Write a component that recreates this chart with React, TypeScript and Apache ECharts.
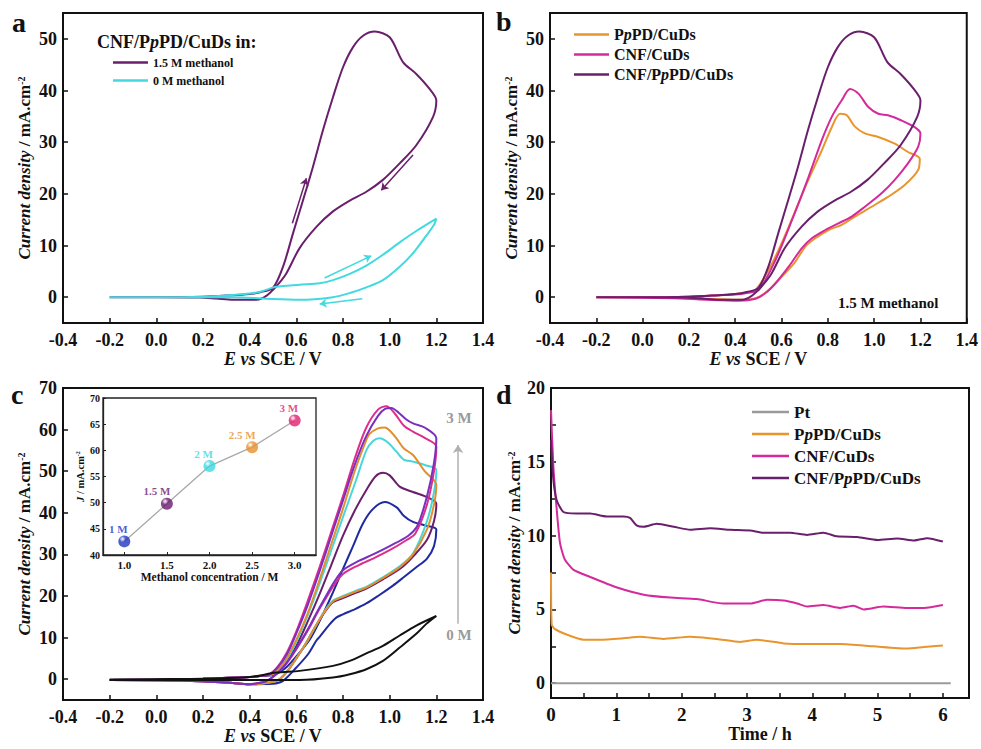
import React, { useEffect, useRef } from "react";
import * as echarts from "echarts";

const FONT = '"Liberation Serif","Times New Roman",serif';

// ---------- Panel a / b : CNF/PpPD/CuDs in 1.5 M methanol ----------
const pppd15FwdE = [-0.2, 0.0, 0.2, 0.3, 0.4, 0.45, 0.5, 0.543, 0.586, 0.629, 0.671, 0.714, 0.757, 0.8, 0.843, 0.886, 0.936, 1.0, 1.057, 1.114, 1.171, 1.2];
const pppd15FwdJ = [0, 0, 0.1, 0.3, 0.6, 1.0, 1.8, 5.9, 12.4, 18.8, 25.2, 32.3, 38.7, 44.5, 48.4, 50.6, 51.4, 50.3, 45.5, 43.2, 40.3, 38.1];
const pppd15RevE = [1.186, 1.114, 1.043, 0.971, 0.9, 0.829, 0.757, 0.686, 0.614, 0.557, 0.514, 0.471, 0.43, 0.33, 0.257, 0.186, 0.0, -0.2];
const pppd15RevJ = [34.9, 29.4, 25.9, 22.7, 20.4, 18.7, 16.6, 13.6, 9.5, 4.6, 2.1, 0.26, -0.5, -0.5, -0.26, -0.05, 0, 0];

// 0 M methanol
const blankFwdE = [-0.2, 0.0, 0.2, 0.3, 0.4, 0.45, 0.514, 0.614, 0.7, 0.757, 0.829, 0.9, 0.971, 1.043, 1.114, 1.2];
const blankFwdJ = [0, 0, 0.1, 0.3, 0.7, 1.1, 2.0, 2.4, 2.7, 3.3, 4.5, 6.1, 8.2, 10.6, 12.8, 15.2];
const blankRevE = [1.19, 1.157, 1.1, 1.043, 0.971, 0.9, 0.829, 0.757, 0.614, 0.471, 0.33, 0.1, -0.2];
const blankRevJ = [14.0, 11.9, 8.5, 5.9, 3.3, 1.9, 0.8, 0.0, -0.5, -0.3, 0, 0, 0];

// scan-direction arrows of panel a: [E1, J1, E2, J2]
const arrowsMeth = [[0.583, 14.3, 0.643, 23.0], [1.1, 27.5, 0.964, 20.7]];
const arrowsBlank = [[0.721, 3.7, 0.921, 8.0], [0.883, -0.3, 0.7, -1.3]];

// ---------- Panel b ----------
const ppdFwdE = [-0.2, 0.0, 0.2, 0.3, 0.4, 0.45, 0.488, 0.56, 0.631, 0.703, 0.774, 0.817, 0.853, 0.882, 0.917, 0.96, 1.018, 1.089, 1.146, 1.197];
const ppdFwdJ = [0, 0, 0.1, 0.3, 0.6, 0.9, 1.4, 6.6, 13.6, 21.4, 28.4, 32.9, 35.5, 35.2, 33.0, 31.7, 31.0, 29.7, 28.1, 26.8];
const ppdRevE = [1.19, 1.132, 1.06, 0.989, 0.917, 0.86, 0.803, 0.746, 0.703, 0.66, 0.602, 0.545, 0.488, 0.416, 0.273, 0.13, -0.2];
const ppdRevJ = [24.6, 21.7, 19.4, 17.5, 15.6, 14.0, 13.0, 11.4, 9.8, 6.9, 4.0, 1.4, -0.2, -0.5, -0.3, 0, 0];

const cnfFwdE = [-0.2, 0.0, 0.2, 0.3, 0.4, 0.45, 0.502, 0.574, 0.645, 0.717, 0.774, 0.817, 0.86, 0.896, 0.932, 0.975, 1.018, 1.06, 1.118, 1.175, 1.2];
const cnfFwdJ = [0, 0, 0.1, 0.3, 0.5, 0.8, 1.4, 7.2, 14.9, 23.3, 30.4, 34.9, 38.1, 40.3, 39.4, 36.8, 35.5, 35.2, 34.2, 32.9, 31.7];
const cnfRevE = [1.19, 1.146, 1.089, 1.032, 0.96, 0.903, 0.846, 0.789, 0.731, 0.688, 0.631, 0.574, 0.531, 0.488, 0.416, 0.273, 0.13, -0.2];
const cnfRevJ = [29.1, 25.9, 22.7, 20.1, 17.5, 15.6, 14.3, 13.0, 11.4, 9.5, 5.9, 2.7, 0.8, -0.3, -0.7, -0.5, -0.2, 0];

// ---------- Panel c : concentration series ----------
const lowFwdE = [-0.2, 0.0, 0.2, 0.4, 0.45];
const lowFwdJ = [-0.2, -0.1, 0.1, 0.5, 0.8];
const lowRevE = [0.4, 0.3, 0.1, -0.2];
const lowRevJ = [-1.2, -0.8, -0.3, -0.2];

const c0FwdE = [-0.2, 0.0, 0.2, 0.4, 0.514, 0.614, 0.757, 0.829, 0.9, 0.971, 1.043, 1.114, 1.2];
const c0FwdJ = [-0.1, 0, 0.1, 0.5, 1.6, 2.0, 3.2, 4.4, 6.2, 8.0, 10.5, 12.9, 15.2];
const c0RevE = [1.157, 1.114, 1.043, 0.971, 0.9, 0.829, 0.757, 0.614, 0.33, -0.2];
const c0RevJ = [13.3, 10.9, 7.6, 4.4, 2.4, 1.2, 0.4, -0.2, -0.2, -0.2];

const c1FwdE = [0.5, 0.55, 0.6, 0.657, 0.7, 0.75, 0.8, 0.843, 0.886, 0.93, 0.979, 1.03, 1.06, 1.1, 1.15, 1.2];
const c1FwdJ = [1.0, 2.5, 5.5, 9.5, 14.0, 20.0, 26.5, 32.0, 37.5, 41.0, 42.6, 41.3, 39.3, 37.8, 37.0, 36.0];
const c1RevE = [1.19, 1.16, 1.114, 1.06, 1.014, 0.95, 0.9, 0.85, 0.8, 0.771, 0.74, 0.7, 0.686, 0.65, 0.6, 0.543, 0.5];
const c1RevJ = [32.0, 29.0, 26.9, 24.5, 22.5, 20.0, 18.2, 16.8, 15.6, 14.8, 13.0, 10.2, 9.3, 6.0, 2.8, -0.4, -1.1];

const c15FwdE = [0.5, 0.55, 0.6, 0.65, 0.7, 0.75, 0.8, 0.85, 0.9, 0.94, 0.971, 1.0, 1.043, 1.1, 1.15, 1.2];
const c15FwdJ = [1.2, 3.5, 8.0, 14.0, 20.5, 27.5, 34.5, 40.5, 45.5, 48.8, 49.6, 49.0, 46.3, 45.0, 44.0, 42.2];
const c15RevE = [1.19, 1.16, 1.1, 1.05, 0.971, 0.9, 0.857, 0.8, 0.757, 0.72, 0.68, 0.64, 0.6, 0.56, 0.52, 0.45];
const c15RevJ = [38.0, 33.5, 29.5, 26.8, 24.0, 21.8, 20.8, 19.5, 18.5, 16.0, 12.5, 8.5, 5.0, 1.8, -0.3, -1.1];

const c2FwdE = [0.5, 0.55, 0.6, 0.65, 0.7, 0.75, 0.8, 0.857, 0.9, 0.93, 0.957, 0.99, 1.029, 1.06, 1.1, 1.15, 1.2];
const c2FwdJ = [1.3, 4.0, 9.0, 15.5, 23.0, 31.0, 39.0, 48.0, 55.0, 57.3, 57.9, 57.0, 54.7, 52.8, 52.3, 51.5, 50.3];
const c2RevE = [1.19, 1.16, 1.1, 1.04, 0.971, 0.9, 0.857, 0.8, 0.757, 0.72, 0.68, 0.64, 0.6, 0.56, 0.52, 0.45];
const c2RevJ = [45.0, 38.0, 30.2, 27.0, 24.5, 22.2, 21.3, 20.0, 18.9, 16.3, 12.5, 8.5, 5.0, 1.8, -0.3, -1.1];

const c25FwdE = [0.5, 0.55, 0.6, 0.65, 0.7, 0.75, 0.8, 0.85, 0.9, 0.914, 0.95, 0.979, 1.0, 1.029, 1.06, 1.1, 1.15, 1.2];
const c25FwdJ = [1.3, 4.2, 9.5, 16.0, 24.0, 32.5, 41.0, 50.0, 57.5, 59.0, 60.3, 60.5, 59.8, 57.9, 55.5, 53.9, 50.0, 46.7];
const c25RevE = [1.19, 1.16, 1.1, 1.04, 0.971, 0.9, 0.857, 0.8, 0.757, 0.72, 0.68, 0.64, 0.6, 0.56, 0.52, 0.45];
const c25RevJ = [42.0, 36.0, 30.0, 26.8, 24.3, 22.0, 21.1, 19.8, 18.7, 16.2, 12.5, 8.5, 5.0, 1.8, -0.3, -1.1];

const c3FwdE = [0.48, 0.52, 0.56, 0.6, 0.65, 0.7, 0.75, 0.8, 0.85, 0.9, 0.95, 0.986, 1.02, 1.06, 1.1, 1.15, 1.2];
const c3FwdJ = [1.0, 3.0, 6.5, 11.5, 19.0, 27.0, 35.5, 44.0, 53.0, 60.5, 64.8, 65.6, 64.0, 61.0, 59.5, 58.0, 55.9];
const c3RevE = [1.19, 1.16, 1.11, 1.071, 1.0, 0.929, 0.87, 0.8, 0.76, 0.729, 0.69, 0.657, 0.62, 0.586, 0.55, 0.514, 0.47, 0.42];
const c3RevJ = [50.0, 42.0, 35.0, 33.4, 31.0, 29.0, 27.5, 25.3, 22.5, 19.7, 16.0, 12.5, 9.0, 6.0, 3.2, 1.2, -0.5, -1.1];

const c35FwdE = [0.48, 0.52, 0.56, 0.6, 0.65, 0.7, 0.75, 0.8, 0.85, 0.9, 0.95, 0.98, 1.007, 1.04, 1.07, 1.1, 1.15, 1.2];
const c35FwdJ = [1.0, 2.8, 6.0, 11.0, 18.0, 26.0, 34.5, 43.0, 51.5, 58.5, 63.3, 65.0, 65.2, 64.0, 62.5, 61.5, 60.5, 57.9];
const c35RevE = [1.19, 1.16, 1.12, 1.08, 1.0, 0.929, 0.87, 0.8, 0.76, 0.729, 0.69, 0.657, 0.62, 0.586, 0.55, 0.514, 0.47, 0.42];
const c35RevJ = [52.0, 44.0, 37.0, 34.5, 32.0, 30.0, 28.5, 26.2, 23.2, 20.2, 16.3, 12.8, 9.2, 6.2, 3.3, 1.2, -0.5, -1.1];

const concArrow = [1.293, 13.3, 1.293, 56.3];

// inset
const insetConc = [1.0, 1.5, 2.0, 2.5, 3.0];
const insetPeak = [42.6, 49.8, 57.0, 60.6, 65.7];
const insetLabels = ["1 M", "1.5 M", "2 M", "2.5 M", "3 M"];

// ---------- Panel d : chronoamperometry ----------
const ptT = [0, 6.12];
const ptJ = [0, 0];
const ppdT = [0, 0.01, 0.05, 0.24, 0.5, 0.75, 1.11, 1.36, 1.72, 2.13, 2.54, 2.9, 3.15, 3.56, 3.92, 4.43, 4.94, 5.45, 5.71, 6.0];
const ppdJ = [7.5, 4.0, 3.7, 3.3, 2.95, 2.95, 3.05, 3.15, 3.0, 3.15, 3.0, 2.8, 2.95, 2.7, 2.65, 2.65, 2.5, 2.35, 2.45, 2.55];
const cnfT = [0, 0.036, 0.087, 0.138, 0.21, 0.34, 0.6, 1.0, 1.42, 1.83, 2.23, 2.64, 3.05, 3.31, 3.56, 3.77, 3.92, 4.17, 4.43, 4.63, 4.79, 5.09, 5.45, 5.71, 6.0];
const cnfJ = [18.5, 14.7, 11.8, 9.5, 8.4, 7.7, 7.2, 6.5, 6.0, 5.8, 5.7, 5.4, 5.4, 5.65, 5.6, 5.4, 5.2, 5.3, 5.1, 5.25, 5.0, 5.2, 5.1, 5.1, 5.3];
const triT = [0, 0.036, 0.087, 0.19, 0.39, 0.6, 0.85, 1.11, 1.21, 1.31, 1.42, 1.62, 1.88, 2.13, 2.44, 2.74, 3.05, 3.25, 3.66, 3.92, 4.17, 4.38, 4.69, 5.0, 5.3, 5.56, 5.76, 6.0];
const triJ = [16.5, 13.8, 12.4, 11.6, 11.5, 11.5, 11.3, 11.3, 11.2, 10.7, 10.6, 10.8, 10.6, 10.4, 10.5, 10.4, 10.35, 10.2, 10.2, 10.05, 10.2, 9.95, 9.9, 9.7, 9.8, 9.67, 9.83, 9.6];

// tick values
const cvXTicks = [-0.4, -0.2, 0, 0.2, 0.4, 0.6, 0.8, 1.0, 1.2, 1.4];
const abYTicks = [0, 10, 20, 30, 40, 50];
const cYTicks = [0, 10, 20, 30, 40, 50, 60, 70];
const dYLabels = [0, 5, 10, 15, 20];
const dYTicks = [0, 2.5, 5, 7.5, 10, 12.5, 15, 17.5, 20];
const dXLabels = [0, 1, 2, 3, 4, 5, 6];
const dXTicks = [0, 0.5, 1, 1.5, 2, 2.5, 3, 3.5, 4, 4.5, 5, 5.5, 6];
const inYTicks = [40, 45, 50, 55, 60, 65, 70];
const inXTicks = [1.0, 1.5, 2.0, 2.5, 3.0];

const C = {
  purple: "#6a1f6c",
  cyan: "#42d9e0",
  orange: "#e8952e",
  pink: "#d42b9b",
  black: "#111111",
  blue: "#1f2a9e",
  cyan2: "#48d6dc",
  orange2: "#e0902c",
  pink2: "#dc2f8c",
  violet: "#7b2fbf",
  gray: "#9a9a9a",
};

const pair = (e: number[], j: number[]) => e.map((v, i) => [v, j[i]]);
const loop = (fe: number[], fj: number[], re: number[], rj: number[]) => pair(fe, fj).concat(pair(re, rj));

const richName = (size: number) => ({
  fontFamily: FONT,
  fontWeight: "bold",
  fontSize: size,
  color: "#111",
  rich: {
    i: { fontFamily: FONT, fontWeight: "bold", fontStyle: "italic", fontSize: size, color: "#111" },
    s: { fontFamily: FONT, fontWeight: "bold", fontSize: Math.round(size * 0.6), color: "#111", verticalAlign: "top" },
  },
});

const lineAx = (color = "#111", w = 2) => ({ show: true, onZero: false, lineStyle: { color, width: w } });

function xCV(gi: number) {
  return {
    type: "value",
    gridIndex: gi,
    min: -0.4,
    max: 1.4,
    interval: 0.2,
    axisLine: lineAx(),
    axisTick: { inside: true, length: 5, customValues: cvXTicks, lineStyle: { color: "#111", width: 1.5 } },
    axisLabel: {
      customValues: cvXTicks,
      formatter: (v: number) => (Math.abs(v) < 1e-9 ? "0.0" : v.toFixed(1)),
      fontFamily: FONT,
      fontWeight: "bold",
      fontSize: 18,
      color: "#111",
      margin: 8,
      showMinLabel: true,
      showMaxLabel: true,
    },
    splitLine: { show: false },
    name: "{i|E} {i|vs} SCE / V",
    nameLocation: "middle",
    nameGap: 24,
    nameTextStyle: richName(18),
  };
}

function yAx(gi: number, min: number, max: number, labels: number[], ticks: number[], gap: number) {
  return {
    type: "value",
    gridIndex: gi,
    min,
    max,
    axisLine: lineAx(),
    axisTick: { inside: true, length: 5, customValues: ticks, lineStyle: { color: "#111", width: 1.5 } },
    axisLabel: {
      customValues: labels,
      fontFamily: FONT,
      fontWeight: "bold",
      fontSize: 18,
      color: "#111",
      margin: 6,
    },
    splitLine: { show: false },
    name: "{i|Current density} / mA.cm{s|-2}",
    nameLocation: "middle",
    nameGap: gap,
    nameTextStyle: richName(17),
  };
}

const cv = (name: string, data: number[][], color: string, idx: number, extra: any = {}) => ({
  type: "line",
  name,
  data,
  xAxisIndex: idx,
  yAxisIndex: idx,
  showSymbol: false,
  symbol: "none",
  smooth: 0.3,
  lineStyle: { color, width: 2 },
  itemStyle: { color },
  z: 3,
  ...extra,
});

const arrowMark = (arrs: number[][], color: string, width = 1.5, size = 7) => ({
  silent: true,
  symbol: ["none", "arrow"],
  symbolSize: size,
  label: { show: false },
  lineStyle: { color, width, type: "solid" },
  emphasis: { disabled: true },
  data: arrs.map((a) => [{ coord: [a[0], a[1]] }, { coord: [a[2], a[3]] }]),
});

const legendText = (size: number) => ({
  fontFamily: FONT,
  fontWeight: "bold",
  fontSize: size,
  lineHeight: size + 1,
  color: "#111",
  rich: { i: { fontFamily: FONT, fontWeight: "bold", fontStyle: "italic", fontSize: size, color: "#111" } },
});
const fmtLegend = (n: string) => n.replace("PpPD", "P{i|p}PD");

const ball = (c: string) =>
  new echarts.graphic.RadialGradient(0.35, 0.3, 0.75, [
    { offset: 0, color: "#ffffff" },
    { offset: 0.35, color: c },
    { offset: 1, color: c },
  ]);
const insetColors = ["#2233c0", "#6a1a70", "#3fd8e0", "#e8902a", "#e0206e"];

export default function App() {
  const ref = useRef<HTMLDivElement>(null);
  useEffect(() => {
    if (!ref.current) return;
    const chart = echarts.init(ref.current, null, { renderer: "svg" });
    const option: any = {
      animation: false,
      backgroundColor: "#ffffff",
      grid: [
        { left: 63, top: 13, width: 420, height: 310, show: true, borderColor: "#111", borderWidth: 2 },
        { left: 550, top: 13, width: 419, height: 310, show: true, borderColor: "#111", borderWidth: 2 },
        { left: 63, top: 388, width: 420, height: 312, show: true, borderColor: "#111", borderWidth: 2 },
        { left: 551, top: 388, width: 418, height: 310, show: true, borderColor: "#111", borderWidth: 2 },
        { left: 103, top: 398, width: 213, height: 157, show: true, borderColor: "#222", borderWidth: 1.3, backgroundColor: "#fff", z: 5 },
      ],
      xAxis: [
        xCV(0),
        xCV(1),
        xCV(2),
        {
          type: "value",
          gridIndex: 3,
          min: 0,
          max: 6.4,
          axisLine: lineAx(),
          axisTick: { inside: true, length: 5, customValues: dXTicks, lineStyle: { color: "#111", width: 1.5 } },
          axisLabel: { customValues: dXLabels, fontFamily: FONT, fontWeight: "bold", fontSize: 19, color: "#111", margin: 7 },
          splitLine: { show: false },
          name: "Time / h",
          nameLocation: "middle",
          nameGap: 21,
          nameTextStyle: richName(18),
        },
        {
          type: "value",
          gridIndex: 4,
          min: 0.75,
          max: 3.25,
          z: 6,
          axisLine: lineAx("#222", 1.3),
          axisTick: { inside: true, length: 3, customValues: inXTicks, lineStyle: { color: "#222", width: 1 } },
          axisLabel: {
            customValues: inXTicks,
            formatter: (v: number) => v.toFixed(1),
            fontFamily: FONT,
            fontWeight: "bold",
            fontSize: 11,
            color: "#111",
            margin: 4,
          },
          splitLine: { show: false },
          name: "Methanol concentration / M",
          nameLocation: "middle",
          nameGap: 15,
          nameTextStyle: { fontFamily: FONT, fontWeight: "bold", fontSize: 11.5, color: "#111" },
        },
      ],
      yAxis: [
        yAx(0, -5, 55, abYTicks, abYTicks, 30),
        yAx(1, -5, 55, abYTicks, abYTicks, 30),
        yAx(2, -5, 70, cYTicks, cYTicks, 30),
        yAx(3, -1, 20, dYLabels, dYTicks, 28),
        {
          type: "value",
          gridIndex: 4,
          min: 40,
          max: 70,
          z: 6,
          axisLine: lineAx("#222", 1.3),
          axisTick: { inside: true, length: 3, customValues: inYTicks, lineStyle: { color: "#222", width: 1 } },
          axisLabel: { customValues: inYTicks, fontFamily: FONT, fontWeight: "bold", fontSize: 10, color: "#111", margin: 3 },
          splitLine: { show: false },
          name: "{i|J} / mA.cm{s|-2}",
          nameLocation: "middle",
          nameGap: 16,
          nameTextStyle: richName(10.5),
        },
      ],
      legend: [
        {
          data: ["1.5 M methanol", "0 M methanol"],
          orient: "vertical",
          left: 113,
          top: 56,
          padding: 0,
          icon: "rect",
          itemWidth: 35,
          itemHeight: 2.5,
          itemGap: 5,
          textStyle: legendText(12),
        },
        {
          data: ["PpPD/CuDs", "CNF/CuDs", "CNF/PpPD/CuDs"],
          orient: "vertical",
          left: 574,
          top: 26,
          padding: 0,
          icon: "rect",
          itemWidth: 35,
          itemHeight: 2.5,
          itemGap: 3,
          formatter: fmtLegend,
          textStyle: legendText(16),
        },
        {
          data: ["Pt", "PpPD/CuDs", "CNF/CuDs", "CNF/PpPD/CuDs"],
          orient: "vertical",
          left: 752,
          top: 403,
          padding: 0,
          icon: "rect",
          itemWidth: 37,
          itemHeight: 2.5,
          itemGap: 4,
          formatter: fmtLegend,
          textStyle: legendText(17),
        },
      ],
      graphic: [
        { type: "text", x: 12, y: 22, style: { text: "a", fontFamily: FONT, fontWeight: "bold", fontSize: 28, fill: "#111", verticalAlign: "middle" } },
        { type: "text", x: 496, y: 21, style: { text: "b", fontFamily: FONT, fontWeight: "bold", fontSize: 28, fill: "#111", verticalAlign: "middle" } },
        { type: "text", x: 11, y: 394, style: { text: "c", fontFamily: FONT, fontWeight: "bold", fontSize: 28, fill: "#111", verticalAlign: "middle" } },
        { type: "text", x: 496, y: 394, style: { text: "d", fontFamily: FONT, fontWeight: "bold", fontSize: 28, fill: "#111", verticalAlign: "middle" } },
        {
          type: "text",
          x: 97,
          y: 42,
          style: {
            text: "CNF/P{i|p}PD/CuDs in:",
            fontFamily: FONT,
            fontWeight: "bold",
            fontSize: 18,
            fill: "#111",
            verticalAlign: "middle",
            rich: { i: { fontFamily: FONT, fontWeight: "bold", fontStyle: "italic", fontSize: 18, fill: "#111" } },
          },
        },
        { type: "text", x: 838, y: 303, style: { text: "1.5 M methanol", fontFamily: FONT, fontWeight: "bold", fontSize: 15, fill: "#111", verticalAlign: "middle" } },
        { type: "text", x: 459, y: 418, style: { text: "3 M", fontFamily: FONT, fontWeight: "bold", fontSize: 15, fill: "#9a9a9a", align: "center", verticalAlign: "middle" } },
        { type: "text", x: 459, y: 635, style: { text: "0 M", fontFamily: FONT, fontWeight: "bold", fontSize: 15, fill: "#9a9a9a", align: "center", verticalAlign: "middle" } },
      ],
      series: [
        // panel a
        cv("1.5 M methanol", loop(pppd15FwdE, pppd15FwdJ, pppd15RevE, pppd15RevJ), C.purple, 0, { markLine: arrowMark(arrowsMeth, C.purple) }),
        cv("0 M methanol", loop(blankFwdE, blankFwdJ, blankRevE, blankRevJ), C.cyan, 0, { markLine: arrowMark(arrowsBlank, C.cyan) }),
        // panel b
        cv("PpPD/CuDs", loop(ppdFwdE, ppdFwdJ, ppdRevE, ppdRevJ), C.orange, 1),
        cv("CNF/CuDs", loop(cnfFwdE, cnfFwdJ, cnfRevE, cnfRevJ), C.pink, 1),
        cv("CNF/PpPD/CuDs", loop(pppd15FwdE, pppd15FwdJ, pppd15RevE, pppd15RevJ), C.purple, 1),
        // panel c
        cv("c 1 M", loop(lowFwdE.concat(c1FwdE), lowFwdJ.concat(c1FwdJ), c1RevE.concat(lowRevE), c1RevJ.concat(lowRevJ)), C.blue, 2),
        cv("c 1.5 M", loop(lowFwdE.concat(c15FwdE), lowFwdJ.concat(c15FwdJ), c15RevE.concat(lowRevE), c15RevJ.concat(lowRevJ)), C.purple, 2),
        cv("c 2 M", loop(lowFwdE.concat(c2FwdE), lowFwdJ.concat(c2FwdJ), c2RevE.concat(lowRevE), c2RevJ.concat(lowRevJ)), C.cyan2, 2),
        cv("c 2.5 M", loop(lowFwdE.concat(c25FwdE), lowFwdJ.concat(c25FwdJ), c25RevE.concat(lowRevE), c25RevJ.concat(lowRevJ)), C.orange2, 2),
        cv("c 3 M", loop(lowFwdE.concat(c3FwdE), lowFwdJ.concat(c3FwdJ), c3RevE.concat(lowRevE), c3RevJ.concat(lowRevJ)), C.pink2, 2),
        cv("c 3 M b", loop(lowFwdE.concat(c35FwdE), lowFwdJ.concat(c35FwdJ), c35RevE.concat(lowRevE), c35RevJ.concat(lowRevJ)), C.violet, 2),
        cv("c 0 M", loop(c0FwdE, c0FwdJ, c0RevE, c0RevJ), C.black, 2, { markLine: arrowMark([concArrow], "#b0b0b0", 1.5, 8) }),
        // inset
        {
          type: "line",
          name: "inset line",
          xAxisIndex: 4,
          yAxisIndex: 4,
          data: pair(insetConc, insetPeak),
          showSymbol: false,
          symbol: "none",
          lineStyle: { color: "#a8a8a8", width: 1.3 },
          z: 7,
        },
        {
          type: "scatter",
          name: "inset points",
          xAxisIndex: 4,
          yAxisIndex: 4,
          symbolSize: 12,
          z: 8,
          data: insetConc.map((c, i) => ({
            value: [c, insetPeak[i]],
            itemStyle: { color: ball(insetColors[i]) },
            label: {
              show: true,
              position: "top",
              distance: 1,
              offset: [i === 1 || i === 3 ? -10 : -6, 0],
              formatter: insetLabels[i],
              color: insetColors[i],
              fontFamily: FONT,
              fontWeight: "bold",
              fontSize: 11,
            },
          })),
        },
        // panel d
        cv("Pt", pair(ptT, ptJ), C.gray, 3, { smooth: false }),
        cv("PpPD/CuDs", pair(ppdT, ppdJ), C.orange, 3, { smooth: 0.2 }),
        cv("CNF/CuDs", pair(cnfT, cnfJ), C.pink, 3, { smooth: 0.2 }),
        cv("CNF/PpPD/CuDs", pair(triT, triJ), C.purple, 3, { smooth: 0.2 }),
      ],
    };
    chart.setOption(option);
    return () => chart.dispose();
  }, []);
  return (
    <div
      ref={ref}
      style={{ position: "absolute", left: 0, top: 0, width: 981, height: 749, background: "#fff" }}
    />
  );
}
